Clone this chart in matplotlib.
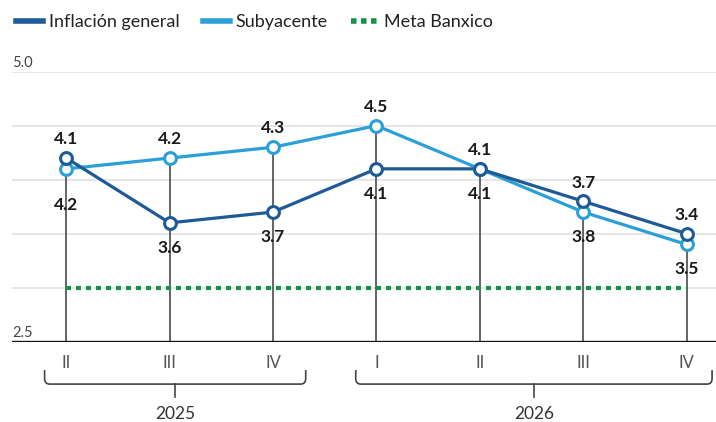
import matplotlib.pyplot as plt
from matplotlib.lines import Line2D
from matplotlib.path import Path
from matplotlib.patches import PathPatch
import matplotlib.transforms as mtransforms

# datos
trimestres = ['II', 'III', 'IV', 'I', 'II', 'III', 'IV']
anios = ['2025', '2026']
general = [4.2, 3.6, 3.7, 4.1, 4.1, 3.8, 3.5]
subyacente = [4.1, 4.2, 4.3, 4.5, 4.1, 3.7, 3.4]
meta = 3.0
etiq_arriba = ['4.1', '4.2', '4.3', '4.5', '4.1', '3.7', '3.4']
etiq_abajo = ['4.2', '3.6', '3.7', '4.1', '4.1', '3.8', '3.5']

c_gen = '#1d5a96'
c_sub = '#2a9fd8'
c_meta = '#17924a'

plt.rcParams['font.family'] = ['Lato', 'DejaVu Sans']

fig = plt.figure(figsize=(7.16, 4.22), dpi=100)
ax = fig.add_axes([0.0168, 0.1903, 0.9832, 0.640])
x = list(range(len(trimestres)))

# lineas guia
for v in [3.0, 3.5, 4.0, 4.5, 5.0]:
    ax.axhline(v, color='#e6e6e6', lw=1.4, zorder=0)
for i in x:
    ax.plot([i, i], [2.5, subyacente[i]], color='#4a4a4a', lw=1.2, zorder=1)

ax.plot(x, [meta] * len(x), color=c_meta, lw=3, linestyle=(0, (1.2, 1.2)), zorder=2)
ax.plot(x, general, color=c_gen, lw=2.3, marker='o', ms=8.5, mfc='white', mew=2.2, zorder=4)
ax.plot(x, subyacente, color=c_sub, lw=2.3, marker='o', ms=8.5, mfc='white', mew=2.2, zorder=3)

# etiquetas de valores
for i in x:
    alto = max(general[i], subyacente[i])
    bajo = min(general[i], subyacente[i])
    ax.annotate(etiq_arriba[i], (i, alto), xytext=(0, 13.5), textcoords='offset points',
                ha='center', va='center', fontsize=12.5, fontweight='bold', color='#1a1a1a', zorder=5)
    off = -26 if i == 0 else -18
    ax.annotate(etiq_abajo[i], (i, bajo), xytext=(0, off), textcoords='offset points',
                ha='center', va='center', fontsize=12.5, fontweight='bold', color='#1a1a1a', zorder=5)

ax.axhline(2.5, color='#111111', lw=2.4, zorder=6)
ax.set_xlim(-0.525, 6.285)
ax.set_ylim(2.5, 5.0)
ax.axis('off')

# etiquetas eje y
for v in [5.0, 2.5]:
    ax.annotate(f'{v:.1f}', (0, v), xycoords=('axes fraction', 'data'), xytext=(0, 1),
                textcoords='offset points', ha='left', va='bottom', fontsize=10.5, color='#444444')

# eje x con llaves
tr = mtransforms.blended_transform_factory(ax.transData, ax.transAxes)
narrow = ['Liberation Sans Narrow', 'Lato', 'DejaVu Sans']
for i in x:
    ax.text(i, -0.078, trimestres[i], transform=tr, ha='center', va='center',
            fontsize=12, color='#555555', family=narrow)

llaves = [(-0.21, 2.316), (2.80, 6.247)]
y0, y1, y2 = -0.105, -0.157, -0.205
for (a, b), anio in zip(llaves, anios):
    r = 0.05
    verts = [(a, y0), (a, y1 + 0.02), (a, y1), (a + r, y1), (b - r, y1), (b, y1), (b, y1 + 0.02), (b, y0)]
    codes = [Path.MOVETO, Path.LINETO, Path.CURVE3, Path.CURVE3, Path.LINETO, Path.CURVE3, Path.CURVE3, Path.LINETO]
    ax.add_patch(PathPatch(Path(verts, codes), transform=tr, fill=False, ec='#444444', lw=1.2, clip_on=False))
    m = (a + b) / 2
    ax.plot([m, m], [y1, y2], transform=tr, color='#444444', lw=1.2, clip_on=False)
    ax.text(m, -0.268, anio, transform=tr, ha='center', va='center',
            fontsize=12.5, color='#333333', family=narrow)

# leyenda
handles = [Line2D([], [], color=c_gen, lw=4),
           Line2D([], [], color=c_sub, lw=4),
           Line2D([], [], color=c_meta, lw=4, linestyle=(0, (1, 0.8)))]
fig.legend(handles, ['Inflación general', 'Subyacente', 'Meta Banxico'], loc='center left',
           bbox_to_anchor=(0.0, 0.948), ncol=3, frameon=False, fontsize=13,
           handlelength=1.5, handletextpad=0.3, columnspacing=1.3, labelcolor='#222222')

fig.savefig('out.png', dpi=100)
